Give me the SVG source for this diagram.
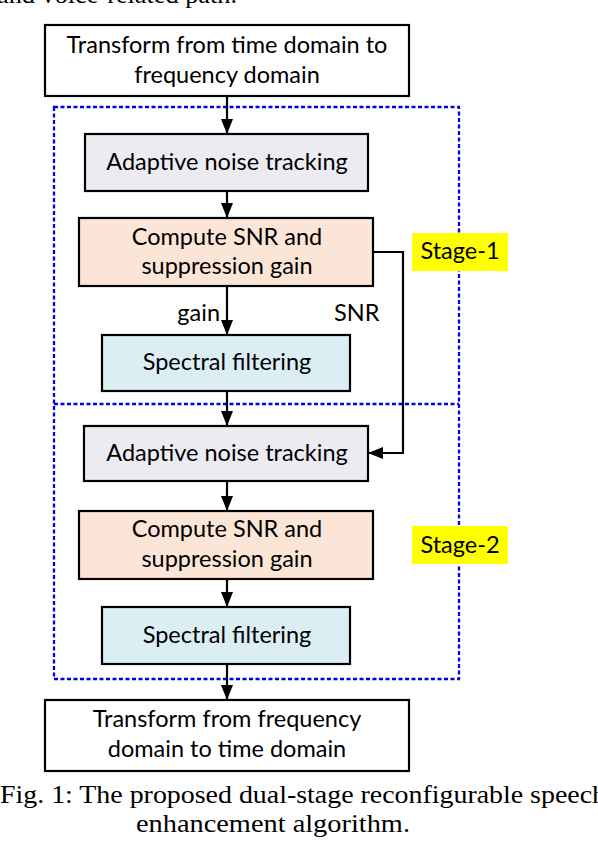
<svg xmlns="http://www.w3.org/2000/svg" width="598" height="844" viewBox="0 0 598 844">
<style>
.box{stroke:#000;stroke-width:2.2}
.t{font-family:Lato,"Open Sans",sans-serif;font-size:23.5px;fill:#000;text-anchor:middle}
.lbl{font-family:Lato,"Open Sans",sans-serif;font-size:23.5px;fill:#000}
.cap{font-family:"Liberation Serif",serif;font-size:25px;fill:#000}
.dash{fill:none;stroke:#0000E6;stroke-width:2.3;stroke-dasharray:4 2.5}
.conn{fill:none;stroke:#000;stroke-width:2.2}
</style>
<defs>
<marker id="arr" markerUnits="userSpaceOnUse" markerWidth="16" markerHeight="14" refX="15" refY="6" orient="auto">
<path d="M0,0 L15,6 L0,12 Z" fill="#000"/>
</marker>
</defs>
<rect width="598" height="844" fill="#fff"/>
<text class="cap" x="-3" y="3" textLength="240" lengthAdjust="spacingAndGlyphs">and voice-related path.</text>

<g id="stages">
<path class="dash" d="M54,107 H459 V679 H54 Z"/>
<path class="dash" d="M54,404 H459"/>
</g>

<g id="connectors">
<path class="conn" d="M227,96 V134" marker-end="url(#arr)"/>
<path class="conn" d="M227,191 V218" marker-end="url(#arr)"/>
<path class="conn" d="M227,286 V335" marker-end="url(#arr)"/>
<path class="conn" d="M227,391 V426" marker-end="url(#arr)"/>
<path class="conn" d="M227,481 V511" marker-end="url(#arr)"/>
<path class="conn" d="M227,579 V607" marker-end="url(#arr)"/>
<path class="conn" d="M227,664 V700" marker-end="url(#arr)"/>
<path class="conn" d="M373,252 H403 V453 H368" marker-end="url(#arr)"/>
<text class="lbl" x="220" y="321" text-anchor="end">gain</text>
<text class="lbl" x="334" y="321">SNR</text>
</g>

<g id="n-t2f">
<rect class="box" x="45" y="25" width="364" height="71" fill="#fff"/>
<text class="t" x="227" y="53">Transform from time domain to</text>
<text class="t" x="227" y="83">frequency domain</text>
</g>
<g id="n-ant1">
<rect class="box" x="85" y="134" width="283" height="57" fill="#EDEBF2"/>
<text class="t" x="227" y="170">Adaptive noise tracking</text>
</g>
<g id="n-snr1">
<rect class="box" x="79" y="218" width="294" height="68" fill="#FBE5D6"/>
<text class="t" x="227" y="245">Compute SNR and</text>
<text class="t" x="227" y="274">suppression gain</text>
</g>
<g id="n-sf1">
<rect class="box" x="102" y="335" width="248" height="56" fill="#DAEEF3"/>
<text class="t" x="227" y="370">Spectral filtering</text>
</g>
<g id="n-ant2">
<rect class="box" x="84" y="426" width="284" height="55" fill="#EDEBF2"/>
<text class="t" x="227" y="461">Adaptive noise tracking</text>
</g>
<g id="n-snr2">
<rect class="box" x="79" y="511" width="294" height="68" fill="#FBE5D6"/>
<text class="t" x="227" y="537">Compute SNR and</text>
<text class="t" x="227" y="567">suppression gain</text>
</g>
<g id="n-sf2">
<rect class="box" x="102" y="607" width="248" height="57" fill="#DAEEF3"/>
<text class="t" x="227" y="643">Spectral filtering</text>
</g>
<g id="n-f2t">
<rect class="box" x="45" y="700" width="364" height="71" fill="#fff"/>
<text class="t" x="227" y="727">Transform from frequency</text>
<text class="t" x="227" y="757">domain to time domain</text>
</g>

<g id="stage1-label">
<rect x="412" y="233" width="96" height="38" fill="#FFFF00"/>
<text class="t" x="460" y="259">Stage-1</text>
</g>
<g id="stage2-label">
<rect x="412" y="526" width="96" height="38" fill="#FFFF00"/>
<text class="t" x="460" y="553">Stage-2</text>
</g>

<text class="cap" x="0" y="803" textLength="606" lengthAdjust="spacingAndGlyphs">Fig. 1: The proposed dual-stage reconfigurable speech</text>
<text class="cap" x="136" y="832" textLength="274" lengthAdjust="spacingAndGlyphs">enhancement algorithm.</text>
</svg>
